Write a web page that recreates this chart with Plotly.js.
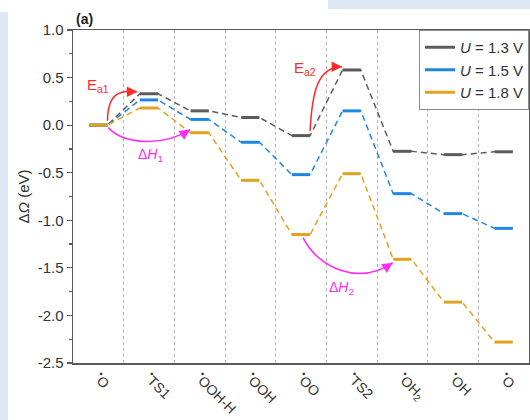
<!DOCTYPE html>
<html>
<head>
<meta charset="utf-8">
<script src="https://cdn.plot.ly/plotly-3.0.1.min.js"></script>
<style>
  html, body { margin:0; padding:0; background:#ffffff; }
  #wrap { position:relative; width:530px; height:420px; overflow:hidden; }
  .band { position:absolute; background:#dde8f6; z-index:0; }
  #chart { position:absolute; left:0; top:0; width:530px; height:420px; z-index:1; }
</style>
</head>
<body>
<div id="wrap">
  <div class="band" style="left:0;top:12px;width:8px;height:408px;"></div>
  <div class="band" style="left:328px;top:0;width:202px;height:9px;"></div>
  <div id="chart"></div>
</div>
<script>
// ---- data ----
const categories = ['<sup>•</sup>O', '<sup>•</sup>TS1', '<sup>•</sup>OOH-H', '<sup>•</sup>OOH', '<sup>•</sup>OO',
                    '<sup>•</sup>TS2', '<sup>•</sup>OH<sub>2</sub>', '<sup>•</sup>OH', '<sup>•</sup>O'];
const u13 = [0.00, 0.33, 0.15, 0.08, -0.11, 0.58, -0.275, -0.31, -0.28];
const u15 = [0.00, 0.265, 0.06, -0.18, -0.52, 0.15, -0.72, -0.93, -1.085];
const u18 = [0.00, 0.18, -0.08, -0.58, -1.15, -0.51, -1.41, -1.86, -2.28];
const seriesNames = ['<i>U</i> = 1.3 V', '<i>U</i> = 1.5 V', '<i>U</i> = 1.8 V'];
const seriesColors = ['#5c5c5c', '#1f86e4', '#e3a21e'];
const yTicks = [1.0, 0.5, 0.0, -0.5, -1.0, -1.5, -2.0, -2.5];

const HW = 0.18; // half width of each level
const FONT = 'Arial, "Liberation Sans", sans-serif';

function profile(vals){
  const xs = [], ys = [];
  vals.forEach((v,i)=>{ xs.push(i-HW, i+HW); ys.push(v, v); });
  return {xs, ys};
}
function levels(vals){
  const xs = [], ys = [];
  vals.forEach((v,i)=>{ xs.push(i-HW, i+HW, null); ys.push(v, v, null); });
  return {xs, ys};
}

const traces = [];
[u13, u15, u18].forEach((vals, k)=>{
  const p = profile(vals);
  traces.push({x:p.xs, y:p.ys, mode:'lines', type:'scatter', showlegend:false, hoverinfo:'skip',
               line:{color:seriesColors[k], width:1.5, dash:'6px,4px'}});
  const l = levels(vals);
  traces.push({x:l.xs, y:l.ys, mode:'lines', type:'scatter', name:seriesNames[k],
               line:{color:seriesColors[k], width:3}});
});

// ---- curved arrows (anchored to the data levels) ----
const RED = '#ff2a2a', MAG = '#ff2cf0';
function cubic(p0,c1,c2,p1){ return `M ${p0[0]},${p0[1]} C ${c1[0]},${c1[1]} ${c2[0]},${c2[1]} ${p1[0]},${p1[1]}`; }
const ea1 = [[HW, u18[0]+0.047],[0.19, 0.33],[0.40, 0.37],[1-HW-0.05, u13[1]+0.022]];
const dh1 = [[0.196, u18[0]-0.026],[0.532,-0.216],[1.32,-0.216],[2-HW-0.01, u18[2]+0.033]];
const ea2 = [[4+HW, u13[4]+0.05],[4.22,0.363],[4.338,0.615],[5-HW-0.01, u13[5]+0.035]];
const dh2 = [[4.04, u18[4]-0.033],[4.34,-1.509],[5.166,-1.688],[6-HW-0.01, u18[6]-0.036]];

const shapes = [
  {type:'path', xref:'x', yref:'y', path:cubic(...ea1), line:{color:RED, width:1.5}},
  {type:'path', xref:'x', yref:'y', path:cubic(...dh1), line:{color:MAG, width:1.5}},
  {type:'path', xref:'x', yref:'y', path:cubic(...ea2), line:{color:RED, width:1.5}},
  {type:'path', xref:'x', yref:'y', path:cubic(...dh2), line:{color:MAG, width:1.5}},
];

function head(pt, ax, ay, color){
  return {x:pt[0], y:pt[1], xref:'x', yref:'y', ax:ax, ay:ay, text:'', showarrow:true,
          arrowhead:2, arrowsize:1.4, arrowwidth:1.5, arrowcolor:color, standoff:0};
}
const annotations = [
  head(ea1[3], -10, 0, RED),
  head(dh1[3], -9, 6, MAG),
  head(ea2[3], -10, 0, RED),
  head(dh2[3], -9, 6, MAG),
  {x:0.0, y:u13[0]+0.415, xref:'x', yref:'y', text:'E<sub>a1</sub>', showarrow:false,
   font:{family:FONT, size:15, color:RED}},
  {x:1.02, y:u18[0]-0.31, xref:'x', yref:'y', text:'Δ<i>H</i><sub>1</sub>', showarrow:false,
   font:{family:FONT, size:14, color:MAG}},
  {x:4.08, y:u13[5]+0.02, xref:'x', yref:'y', text:'E<sub>a2</sub>', showarrow:false,
   font:{family:FONT, size:15, color:RED}},
  {x:4.80, y:u18[6]-0.30, xref:'x', yref:'y', text:'Δ<i>H</i><sub>2</sub>', showarrow:false,
   font:{family:FONT, size:14, color:MAG}},
  {x:0.0, y:1.0, xref:'paper', yref:'paper', xanchor:'left', yanchor:'bottom', yshift:1, xshift:1,
   text:'<b>(a)</b>', showarrow:false, font:{family:FONT, size:14, color:'#222'}}
];

const layout = {
  width:530, height:420,
  margin:{l:73, r:1, t:30, b:57},
  paper_bgcolor:'rgba(0,0,0,0)', plot_bgcolor:'#ffffff',
  font:{family:FONT, color:'#333'},
  showlegend:true,
  legend:{x:1, y:1, xanchor:'right', yanchor:'top', bgcolor:'#ffffff',
          bordercolor:'#8a8a8a', borderwidth:1, font:{family:FONT, size:15, color:'#333'},
          tracegroupgap:0, itemwidth:30},
  xaxis:{range:[-0.5, 8.5], tickmode:'array', tickvals:categories.map((_,i)=>i), ticktext:categories,
         tickangle:45, tickfont:{family:FONT, size:14, color:'#333'}, ticks:'',
         showgrid:false, zeroline:false, showline:true, mirror:true, linecolor:'#5a5a5a', linewidth:1.5,
         minor:{tickmode:'linear', tick0:0.5, dtick:1, showgrid:true, gridcolor:'#b5b5b5',
                griddash:'dot', gridwidth:1, ticks:''}},
  yaxis:{range:[-2.5, 1.0], tickmode:'array', tickvals:yTicks, ticktext:yTicks.map(v=>v.toFixed(1)),
         ticks:'outside', ticklen:5, tickwidth:1.2, tickcolor:'#5a5a5a',
         tickfont:{family:FONT, size:15, color:'#333'},
         minor:{tickmode:'linear', tick0:0.25, dtick:0.5, ticks:'outside', ticklen:3, tickcolor:'#5a5a5a', showgrid:false},
         showgrid:false, zeroline:false, showline:true, mirror:true, linecolor:'#5a5a5a', linewidth:1.5,
         title:{text:'Δ<i>Ω</i> (eV)', font:{family:FONT, size:15, color:'#333'}, standoff:4}},
  shapes:shapes, annotations:annotations
};

Plotly.newPlot('chart', traces, layout, {displayModeBar:false, staticPlot:true});
</script>
</body>
</html>
